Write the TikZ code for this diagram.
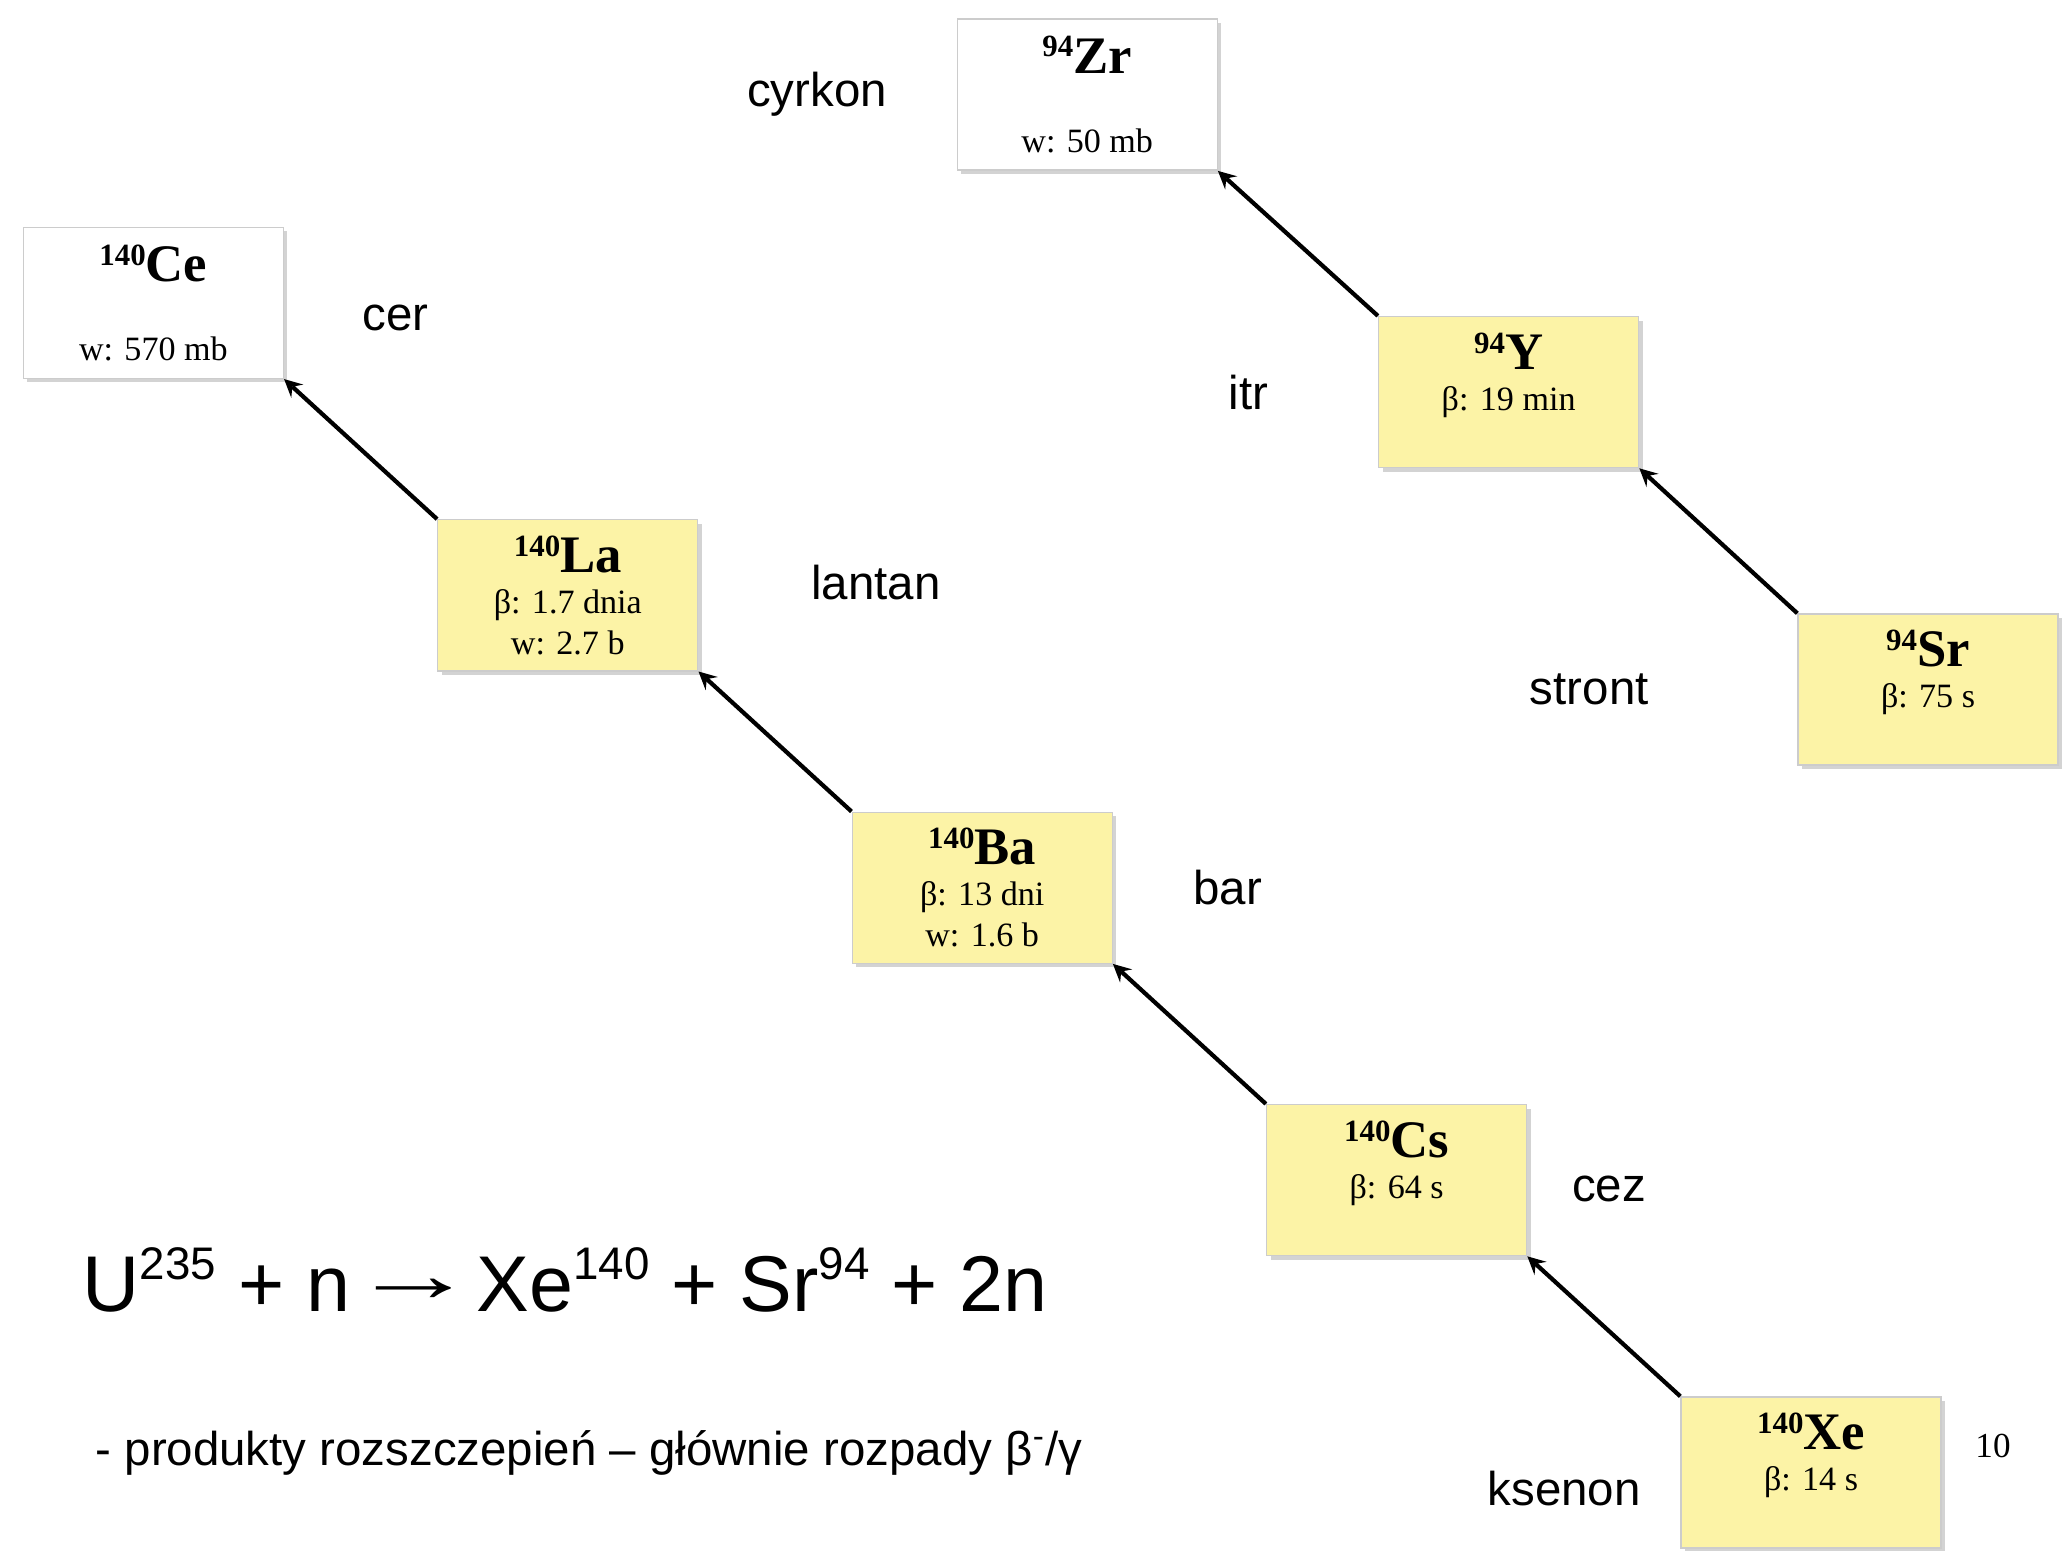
\documentclass[tikz,border=0pt]{standalone}
\usepackage{fontspec}
\setmainfont{Liberation Serif}
\setsansfont{Liberation Sans}
\usepackage{xcolor}
\usepackage{tikz}
\usetikzlibrary{arrows, positioning, shadows}
\definecolor{isoyellow}{RGB}{252, 243, 166}
\newcommand{\iso}[2]{\raisebox{4.6pt}{\fontsize{8.8}{8.8}\selectfont\bfseries #1}{\fontsize{15}{15}\selectfont\bfseries #2}}
\newcommand{\eqsup}[1]{\raisebox{9pt}{\fontsize{13}{13}\selectfont #1}}

\begin{document}
\begin{tikzpicture}[
    node distance=1.40cm and 1.53cm,
    nuclide/.style={rectangle, draw=black!20, fill=isoyellow, minimum width=2.6cm, minimum height=1.51cm, inner sep=0pt, align=center, font=\fontsize{9.7}{11.7}\selectfont, drop shadow={shadow xshift=0.04cm, shadow yshift=-0.04cm, opacity=0.35}},
    stable/.style={nuclide, fill=white},
    elname/.style={font=\sffamily\fontsize{13.5}{16}\selectfont, inner sep=0pt},
    arrow/.style={very thick, ->, >=stealth}
]
\useasboundingbox (0,0) rectangle (20.65,-15.5);

% chain 140
\node[nuclide] (xe) at (18.11,-14.725) {\iso{140}{Xe}\\ β: 14 s\\ \mbox{}};
\node[nuclide, above left=of xe] (cs) {\iso{140}{Cs}\\ β: 64 s\\ \mbox{}};
\node[nuclide, above left=of cs] (ba) {\iso{140}{Ba}\\ β: 13 dni\\ w: 1.6 b};
\node[nuclide, above left=of ba] (la) {\iso{140}{La}\\ β: 1.7 dnia\\ w: 2.7 b};
\node[stable, above left=of la] (ce) {\iso{140}{Ce}\\[10.9pt] w: 570 mb};

% chain 94
\node[nuclide] (sr) at (19.28,-6.895) {\iso{94}{Sr}\\ β: 75 s\\ \mbox{}};
\node[nuclide, above left=1.45cm and 1.58cm of sr] (yt) {\iso{94}{Y}\\ β: 19 min\\ \mbox{}};
\node[stable, above left=1.45cm and 1.60cm of yt] (zr) {\iso{94}{Zr}\\[10.9pt] w: 50 mb};

\draw[arrow] (xe.north west) -- (cs.south east);
\draw[arrow] (cs.north west) -- (ba.south east);
\draw[arrow] (ba.north west) -- (la.south east);
\draw[arrow] (la.north west) -- (ce.south east);
\draw[arrow] (sr.north west) -- (yt.south east);
\draw[arrow] (yt.north west) -- (zr.south east);

% names
\node[elname, left=0.39cm of xe, yshift=-0.16cm] (xename) {ksenon};
\node[elname, right=0.44cm of cs, yshift=-0.09cm] (csname) {cez};
\node[elname, right=0.80cm of ba] (baname) {bar};
\node[elname, right=1.12cm of la, yshift=0.13cm] (laname) {lantan};
\node[elname, right=0.78cm of ce, yshift=-0.15cm] (cename) {cer};
\node[elname, left=1.48cm of sr] (srname) {stront};
\node[elname, left=1.09cm of yt] (ytname) {itr};
\node[elname, left=0.69cm of zr] (zrname) {cyrkon};

\node[anchor=west, inner sep=0pt, font=\sffamily\fontsize{22.5}{27}\selectfont] (reaction) at (0.82,-12.80)
    {U\eqsup{235} + n\raisebox{2.8pt}{\scalebox{1.6}[1]{→}}Xe\eqsup{140} + Sr\eqsup{94} + 2n};
\node[anchor=west, elname] (note) at (0.95,-14.53)
    {- produkty rozszczepień – głównie rozpady β\textsuperscript{-}/γ};
\node[inner sep=0pt, font=\fontsize{10}{12}\selectfont] (pagenum) at (19.93,-14.46) {10};
\end{tikzpicture}
\end{document}
